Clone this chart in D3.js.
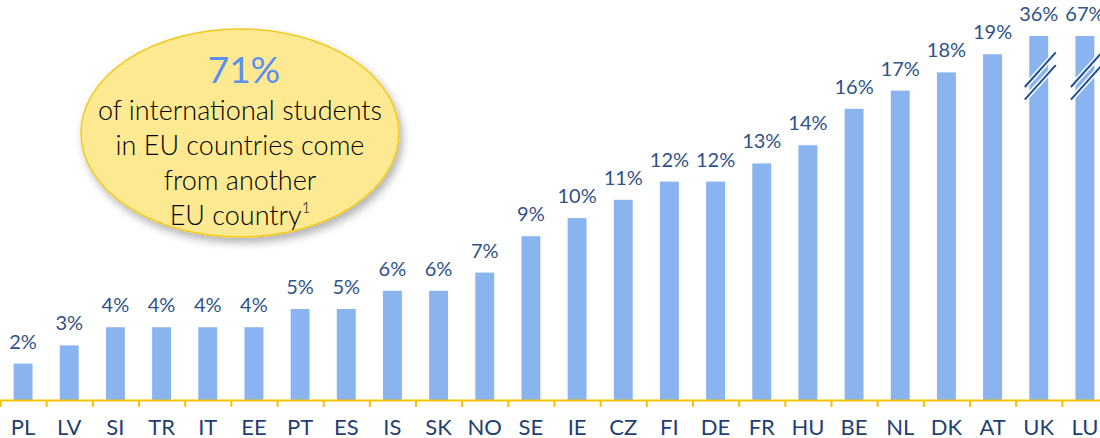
<!DOCTYPE html>
<html>
<head>
<meta charset="utf-8">
<script src="https://cdn.jsdelivr.net/npm/d3@7/dist/d3.min.js"></script>
<style>
  body { margin: 0; background: #fff; }
  svg { display: block; font-family: Lato, "Open Sans", sans-serif; }
</style>
</head>
<body>
<svg id="chart" width="1100" height="438"></svg>
<script>
// countries and share of international students (%)
var countries = ["PL","LV","SI","TR","IT","EE","PT","ES","IS","SK","NO","SE",
                 "IE","CZ","FI","DE","FR","HU","BE","NL","DK","AT","UK","LU"];
var shares = [2,3,4,4,4,4,5,5,6,6,7,9,10,11,12,12,13,14,16,17,18,19,36,67];
var capValue = 20; // bars above this get a break mark
var calloutLines = ["of international students", "in EU countries come", "from another", "EU country"];
var calloutValue = "71%";

var data = countries.map(function(c, i) { return {country: c, value: shares[i]}; });

var svg = d3.select("#chart"),
    baseline = 400,
    plotTop = 36;

var x = d3.scaleBand()
    .domain(countries)
    .range([0, 1108])
    .paddingInner(0.59)
    .paddingOuter(0.295);

var edge = d3.scaleLinear().domain([0, countries.length]).range([0, 1108]);

var y = d3.scaleLinear().domain([0, capValue]).range([baseline, plotTop]);

// bars
svg.append("g").selectAll("rect")
    .data(data)
  .enter().append("rect")
    .attr("x", function(d) { return x(d.country); })
    .attr("width", x.bandwidth())
    .attr("y", function(d) { return y(Math.min(d.value, capValue)); })
    .attr("height", function(d) { return baseline - y(Math.min(d.value, capValue)); })
    .attr("fill", "#8ab4f0");

// value labels
svg.append("g").selectAll("text")
    .data(data)
  .enter().append("text")
    .attr("x", function(d) { return x(d.country) + x.bandwidth() / 2; })
    .attr("y", function(d) { return y(Math.min(d.value, capValue)) - 15; })
    .attr("text-anchor", "middle")
    .attr("font-size", 20)
    .attr("fill", "#2f5288")
    .text(function(d) { return d.value + "%"; });

// break marks on capped bars
var breaks = svg.append("g");
data.filter(function(d) { return d.value > capValue; }).forEach(function(d) {
  var c = x(d.country) + x.bandwidth() / 2;
  [[17.2, 19.1], [16.5, 18.4]].forEach(function(b) {
    breaks.append("line")
        .attr("x1", c - 14).attr("y1", y(b[0]))
        .attr("x2", c + 17).attr("y2", y(b[1]))
        .attr("stroke", "#fff").attr("stroke-width", 5);
    breaks.append("line")
        .attr("x1", c - 14).attr("y1", y(b[0]))
        .attr("x2", c + 17).attr("y2", y(b[1]))
        .attr("stroke", "#1f4d96").attr("stroke-width", 2);
  });
});

// axis with ticks between categories
var axisG = svg.append("g")
    .attr("transform", "translate(0," + baseline + ")")
    .call(d3.axisBottom(edge).tickValues(d3.range(0, countries.length + 1))
      .tickSize(7).tickFormat(""));
axisG.selectAll("line, path").attr("stroke", "#f5c400").attr("stroke-width", 2);

svg.append("g").selectAll("text")
    .data(countries)
  .enter().append("text")
    .attr("x", function(d) { return x(d) + x.bandwidth() / 2; })
    .attr("y", 435)
    .attr("text-anchor", "middle")
    .attr("font-size", 22)
    .attr("fill", "#1f3f72")
    .text(function(d) { return d; });

// callout bubble
var defs = svg.append("defs");
var f = defs.append("filter").attr("id", "shadow")
    .attr("x", "-20%").attr("y", "-20%").attr("width", "140%").attr("height", "140%");
f.append("feDropShadow").attr("dx", 3).attr("dy", 5).attr("stdDeviation", 4)
    .attr("flood-color", "#000").attr("flood-opacity", 0.3);

svg.append("ellipse")
    .attr("cx", 240).attr("cy", 133).attr("rx", 159).attr("ry", 104)
    .attr("fill", "#fde991")
    .attr("stroke", "#f2c81e").attr("stroke-width", 1.5)
    .attr("filter", "url(#shadow)");

svg.append("text")
    .attr("x", 244).attr("y", 83)
    .attr("text-anchor", "middle")
    .attr("font-size", 37)
    .attr("fill", "#5b8ff0")
    .text(calloutValue);

var ct = svg.append("g").attr("font-size", 27).attr("font-weight", 300).attr("fill", "#000");
calloutLines.forEach(function(l, i) {
  var t = ct.append("text")
      .attr("x", 240).attr("y", 120 + i * 35)
      .attr("text-anchor", "middle")
      .text(l);
  if (i === calloutLines.length - 1) {
    t.append("tspan").attr("font-size", 15).attr("dy", -12).text("1");
  }
});
</script>
</body>
</html>
